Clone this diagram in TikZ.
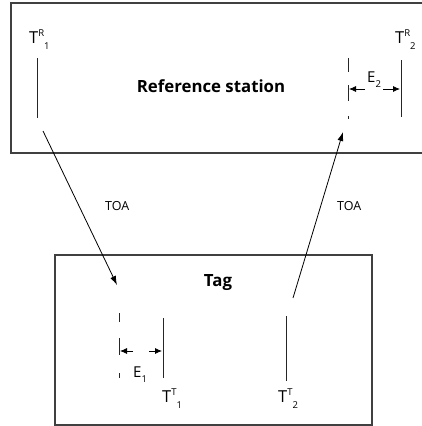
\documentclass[tikz,border=0pt]{standalone}
\usepackage{fontspec}
\setmainfont{Open Sans}
\usetikzlibrary{arrows.meta}
\newcommand{\tsub}[3]{#1\raisebox{7pt}{\fontsize{9.5}{10}\selectfont #2}\raisebox{-6.5pt}{\fontsize{9.5}{10}\selectfont #3}}
\newcommand{\esub}[2]{#1\raisebox{-5pt}{\fontsize{9.5}{10}\selectfont #2}}
\begin{document}
\begin{tikzpicture}[x=1pt,y=-1pt,
  frame/.style={draw=black!75,line width=1.1pt},
  tick/.style={draw=black!85,line width=0.9pt},
  dashtick/.style={draw=black!85,line width=0.9pt,dash pattern=on 14pt off 13pt on 16pt off 15pt on 3pt off 20pt},
  dashtickb/.style={draw=black!85,line width=0.9pt,dash pattern=on 9pt off 16pt on 17pt off 18pt on 5pt off 20pt},
  sig/.style={draw=black,line width=0.8pt,-{Latex[length=9pt,width=6pt]}},
  err/.style={draw=black,line width=0.8pt,-{Latex[length=7pt,width=6pt]}},
  tlabel/.style={inner sep=0pt,anchor=base west,font=\fontsize{16.5}{17}\selectfont},
  elabel/.style={inner sep=0pt,anchor=base west,font=\fontsize{15}{16}\selectfont},
  title/.style={inner sep=0pt,anchor=base,font=\bfseries\fontsize{16.8}{17}\selectfont},
  toa/.style={inner sep=0pt,anchor=base west,font=\fontsize{12.5}{13}\selectfont}]
\useasboundingbox (0,0) rectangle (421,426);
\fill[white] (0,0) rectangle (421,426);
% Reference station box (open on the right)
\draw[frame] (422,3) -- (11,3) -- (11,153) -- (422,153);
% Tag box
\draw[frame] (55,255) rectangle (372,425);

\node[title] (ref) at (211,92) {Reference station};
\node[title] (tag) at (218,286) {Tag};

% reference station timelines
\coordinate (r1t) at (37,58);
\coordinate (r1b) at (37,118);
\draw[tick] (r1t) -- (r1b);
\node[tlabel] (lr1) at (29,43) {\tsub{T}{R}{1}};

\coordinate (r2t) at (401,60);
\coordinate (r2b) at (401,117);
\draw[tick] (r2t) -- (r2b);
\node[tlabel] (lr2) at (395,43) {\tsub{T}{R}{2}};

\coordinate (e2t) at (348,58);
\coordinate (e2b) at (348,120);
\draw[dashtick] (e2t) -- (e2b);
\node[elabel] (le2) at (367,82) {\esub{E}{2}};
\coordinate (e2a) at (365,89);
\coordinate (e2at) at (349,89);
\coordinate (e2c) at (383,89);
\coordinate (e2ct) at (400,89);
\draw[err] (e2a) -- (e2at);
\draw[err] (e2c) -- (e2ct);

% tag timelines
\coordinate (t1t) at (163,318);
\coordinate (t1b) at (163,378);
\draw[tick] (t1t) -- (t1b);
\node[tlabel] (lt1) at (162,402) {\tsub{T}{T}{1}};

\coordinate (t2t) at (286,316);
\coordinate (t2b) at (286,381);
\draw[tick] (t2t) -- (t2b);
\node[tlabel] (lt2) at (278,402) {\tsub{T}{T}{2}};

\coordinate (e1t) at (119,313);
\coordinate (e1b) at (119,378);
\draw[dashtickb] (e1t) -- (e1b);
\node[elabel] (le1) at (133,377) {\esub{E}{1}};
\coordinate (e1a) at (133,351);
\coordinate (e1at) at (120,351);
\coordinate (e1c) at (149,351);
\coordinate (e1ct) at (162,351);
\draw[err] (e1a) -- (e1at);
\draw[err] (e1c) -- (e1ct);

% signals
\coordinate (s1a) at (43,131);
\coordinate (s1b) at (117,285);
\draw[sig] (s1a) -- (s1b);
\coordinate (s2a) at (293,298);
\coordinate (s2b) at (343,132);
\draw[sig] (s2a) -- (s2b);
\node[toa] (toa1) at (105,210) {TOA};
\node[toa] (toa2) at (337,210) {TOA};
\end{tikzpicture}
\end{document}
